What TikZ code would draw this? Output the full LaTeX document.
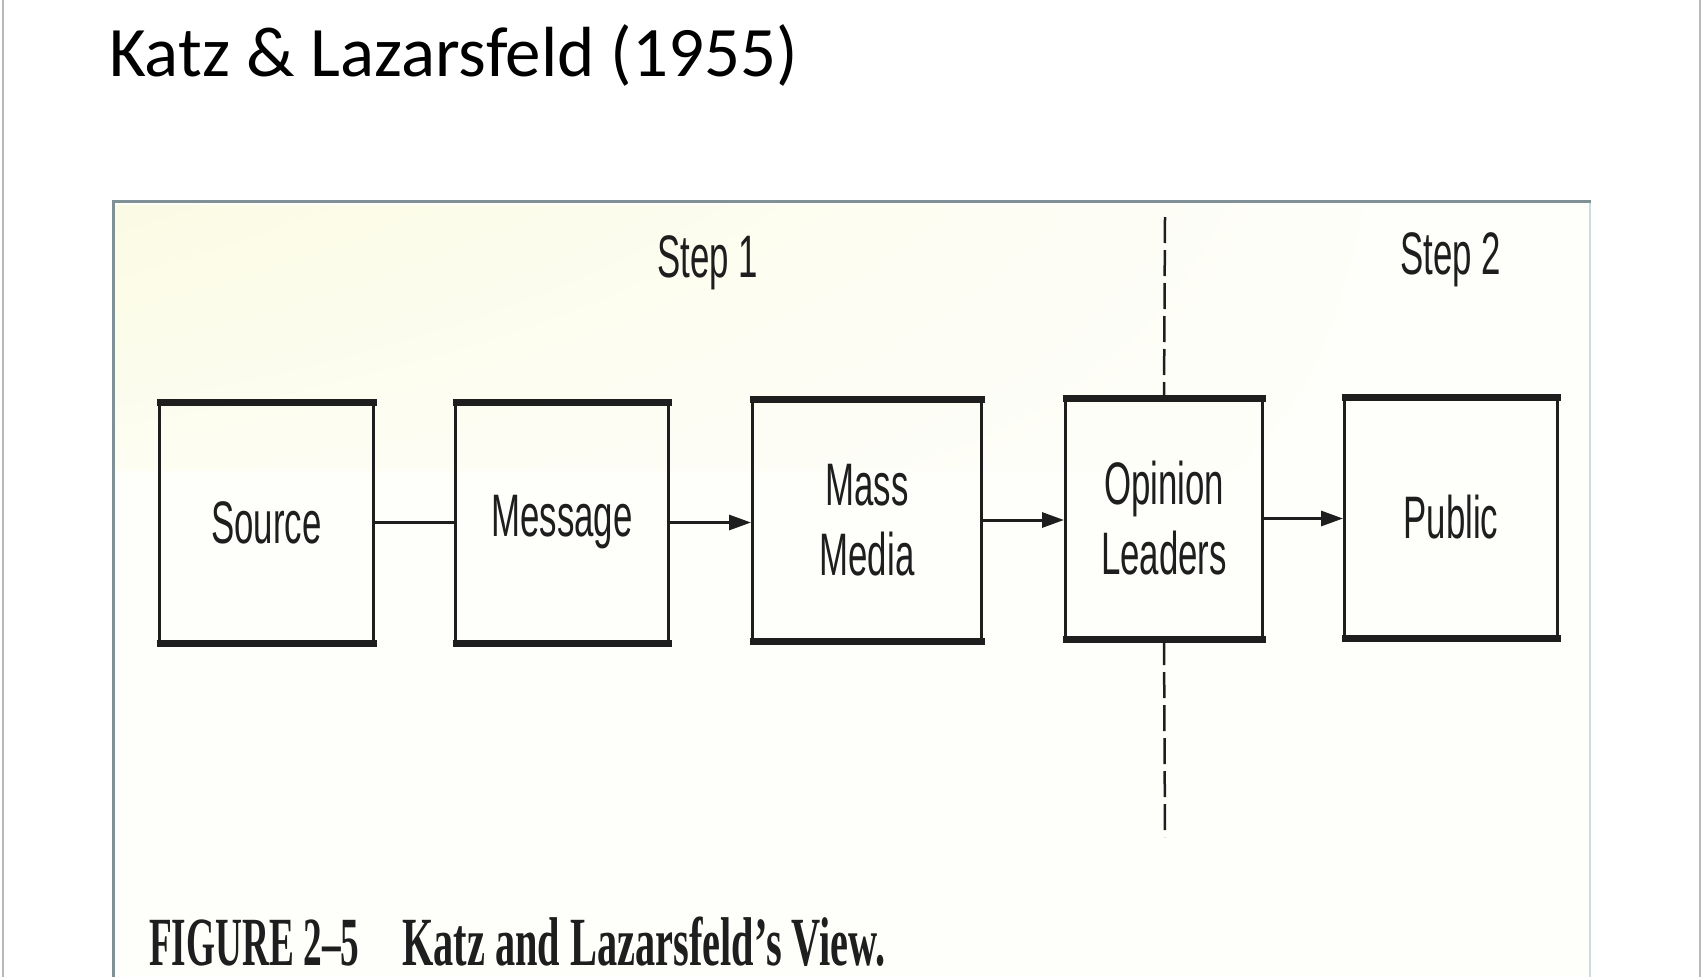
\documentclass[tikz,border=0pt]{standalone}
\usepackage{fontspec}
\setmainfont{Liberation Sans}
\newfontfamily\titlefont{Carlito}
\newfontfamily\capfont{Liberation Serif}
\usetikzlibrary{arrows.meta,shadings}
\definecolor{framecol}{HTML}{7F9096}
\definecolor{edgecol}{HTML}{C8DDE6}
\definecolor{slidecol}{HTML}{B8B8B8}
\definecolor{tint}{HTML}{FBFBE4}
\definecolor{bgcol}{HTML}{FEFEFB}
\definecolor{ink}{HTML}{1E1E1E}
\newcommand{\sx}[1]{\scalebox{0.58}[1]{#1}}
\tikzset{
  flowbox/.style={draw=ink, line width=3pt, inner sep=0pt, align=center,
    font=\fontsize{60}{70}\selectfont, text=ink},
  boxedge/.style={draw=ink, line width=7pt},
  conn/.style={draw=ink, line width=3pt},
  arrowconn/.style={conn, -{Triangle[length=22pt,width=15pt]}},
  divider/.style={draw=ink, line width=2.5pt, dash pattern=on 26pt off 7pt},
  steplabel/.style={font=\fontsize{60}{70}\selectfont, text=ink, inner sep=0pt, anchor=base},
  caplabel/.style={font=\capfont\bfseries\fontsize{69}{80}\selectfont, text=ink, inner sep=0pt, anchor=base west},
}
\begin{document}
\begin{tikzpicture}[x=1pt,y=-1pt]
\useasboundingbox (0,0) rectangle (1704,977);
\fill[white] (0,0) rectangle (1704,977);
% slide border lines
\draw[slidecol, line width=2pt] (3,0) -- (3,977);
\draw[slidecol, line width=2pt] (1700,0) -- (1700,977);
% title
\node[font=\titlefont\fontsize{71}{80}\selectfont, anchor=base west, inner sep=0pt] (title) at (109,76) {Katz \& Lazarsfeld (1955)};
% picture area
\fill[bgcol] (114,202) rectangle (1590,977);
\shade[upper left=tint, upper right=bgcol, lower left=tint!40!bgcol, lower right=bgcol] (114,205) rectangle (1450,470);
\draw[edgecol, line width=1.5pt] (1590,201) -- (1590,977);
\draw[framecol, line width=3pt] (113,977) -- (113,201) -- (1591,201);
% boxes
\node[flowbox, minimum width=214pt, minimum height=238pt] (src) at (266.5,522.5) {\sx{Source}};
\node[flowbox, minimum width=213pt, minimum height=238pt] (msg) at (562,522.5) {\sx{Message}};
\node[flowbox, minimum width=229pt, minimum height=239pt] (mass) at (867,520) {\sx{Mass}\\\sx{Media}};
\node[flowbox, minimum width=197pt, minimum height=238pt] (op) at (1164,518.5) {\sx{Opinion}\\\sx{Leaders}};
\node[flowbox, minimum width=213pt, minimum height=238pt] (pub) at (1451,517.5) {\sx{Public}};
\foreach \b in {src,msg,mass,op,pub}{
  \draw[boxedge] ([xshift=-1.5pt]\b.north west) -- ([xshift=1.5pt]\b.north east);
  \draw[boxedge] ([xshift=-1.5pt]\b.south west) -- ([xshift=1.5pt]\b.south east);
}
% connectors
\draw[conn] (src.east) -- (src.east -| msg.west);
\draw[arrowconn] (msg.east) -- (msg.east -| mass.west);
\draw[arrowconn] (mass.east) -- (mass.east -| op.west);
\draw[arrowconn] (op.east) -- (op.east -| pub.west);
% dashed divider
\coordinate (dtop) at (1165,217);
\coordinate (dbot) at (1165,837);
\draw[divider] (dtop) -- (op.north);
\draw[divider] (op.south) -- (dbot);
% step labels
\node[steplabel] (s1) at (708,277) {\sx{Step 1}};
\node[steplabel] (s2) at (1451,274) {\sx{Step 2}};
% caption
\node[caplabel] (cap1) at (149,965) {\scalebox{0.54}[1]{FIGURE 2–5}};
\node[caplabel] (cap2) at (402,965) {\scalebox{0.585}[1]{Katz and Lazarsfeld’s View.}};
\end{tikzpicture}
\end{document}
